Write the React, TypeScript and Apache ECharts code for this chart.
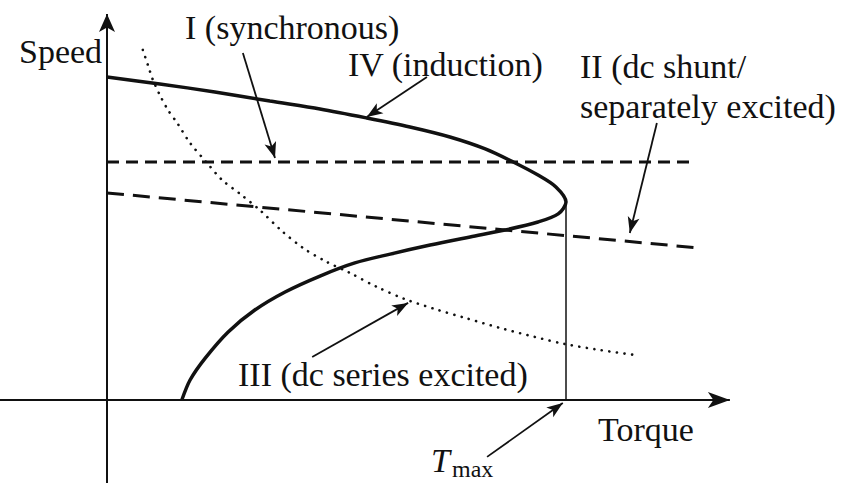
import React, { useEffect, useRef } from "react";
import * as echarts from "echarts";

// Units: torque in % of Tmax, speed in % of synchronous speed
const synchronous: [number, number][] = [
  [0, 100],
  [127, 100],
];
const dcShunt: [number, number][] = [
  [0, 87.0],
  [128.8, 63.9],
];
const induction: [number, number][] = [
  [0, 135.7], [11.5, 132.8], [23.5, 129.4], [35.5, 125.6], [46.4, 122.3],
  [56.6, 118.5], [66.0, 114.7], [74.7, 110.5], [82.4, 105.5], [88.5, 100.0],
  [93.9, 94.5], [97.8, 89.5], [100.0, 83.2], [98.3, 78.2], [93.9, 74.8],
  [86.7, 71.4], [79.1, 68.5], [70.4, 65.1], [61.7, 61.3], [54.0, 57.6],
  [46.4, 52.1], [38.8, 45.4], [32.2, 37.8], [26.4, 28.6], [21.4, 17.6],
  [18.1, 8.4], [16.3, 0],
];
const dcSeries: [number, number][] = [
  [7.8, 147.1], [8.9, 140.8], [10.0, 134.5], [11.5, 128.2], [13.3, 121.8],
  [15.3, 116.4], [18.1, 108.0], [21.8, 99.6], [25.1, 92.4], [29.0, 86.6],
  [33.3, 79.8], [38.1, 71.0], [42.7, 63.9], [47.5, 58.4], [52.9, 53.4],
  [58.8, 47.5], [64.9, 42.4], [71.5, 38.2], [78.0, 34.5], [85.6, 30.3],
  [93.2, 26.5], [99.8, 23.5], [107.4, 21.0], [115.0, 18.9],
];
const tMax = 100;
const tMaxSpeed = 83.2;

const FONT = "'Liberation Serif', 'DejaVu Serif', serif";
const INK = "#111";

export default function App() {
  const ref = useRef<HTMLDivElement>(null);
  useEffect(() => {
    if (!ref.current) return;
    const chart = echarts.init(ref.current, undefined, { renderer: "svg" });
    const seg = (
      from: [number, number],
      to: [number, number],
      size: [number, number] | null,
      width = 2
    ) => {
      const ls = { color: INK, width, type: "solid" };
      return [
        { coord: from, symbol: "none", lineStyle: ls },
        size
          ? { coord: to, symbol: "arrow", symbolSize: size, lineStyle: ls }
          : { coord: to, symbol: "none", lineStyle: ls },
      ];
    };
    const txt = (text: string, x: number, y: number, size = 34, fontStyle = "normal") => ({
      type: "text",
      x,
      y,
      style: {
        text,
        fill: INK,
        fontFamily: FONT,
        fontSize: size,
        fontStyle,
        verticalAlign: "middle",
      },
    });
    chart.setOption({
      animation: false,
      backgroundColor: "#fff",
      grid: { left: 0, right: 0, top: 0, bottom: 0 },
      xAxis: {
        type: "value",
        min: -23.31,
        max: 160.78,
        axisLine: { show: false },
        axisTick: { show: false },
        axisLabel: { show: false },
        splitLine: { show: false },
      },
      yAxis: {
        type: "value",
        min: -34.87,
        max: 168.07,
        axisLine: { show: false },
        axisTick: { show: false },
        axisLabel: { show: false },
        splitLine: { show: false },
      },
      series: [
        {
          name: "I (synchronous)",
          type: "line",
          data: synchronous,
          symbol: "none",
          lineStyle: { color: INK, width: 3, type: [12, 7] },
        },
        {
          name: "II (dc shunt)",
          type: "line",
          data: dcShunt,
          symbol: "none",
          lineStyle: { color: INK, width: 3, type: [17, 9] },
        },
        {
          name: "III (dc series)",
          type: "line",
          data: dcSeries,
          symbol: "none",
          smooth: 0.3,
          lineStyle: { color: INK, width: 2.6, type: [0.1, 7.5], cap: "round" },
        },
        {
          name: "IV (induction)",
          type: "line",
          data: induction,
          symbol: "none",
          smooth: 0.3,
          lineStyle: { color: INK, width: 3.5 },
          markLine: {
            silent: true,
            animation: false,
            label: { show: false },
            symbol: ["none", "none"],
            data: [
              seg([-23.31, 0], [135.7, 0], [12, 22], 2),
              seg([0, -34.87], [0, 162.2], [12, 18], 2),
              seg([tMax, 0], [tMax, tMaxSpeed], null, 1.5),
              seg([29.6, 145.8], [36.6, 101.7], [9, 16], 1.8),
              seg([69.7, 135.7], [56.6, 118.9], [9, 16], 1.8),
              seg([119.8, 116.4], [113.9, 70.2], [9, 16], 1.8),
              seg([44.7, 18.1], [65.6, 40.8], [9, 16], 1.8),
              seg([82.8, -23.9], [99.3, -1.3], [9, 16], 1.8),
            ],
          },
        },
      ],
      graphic: [
        txt("Speed", 19, 51),
        txt("I (synchronous)", 185, 27),
        txt("IV (induction)", 348, 64),
        txt("II (dc shunt/", 580, 66),
        txt("separately excited)", 580, 106),
        txt("III (dc series excited)", 238, 374),
        txt("Torque", 598, 429),
        txt("T", 431, 460, 34, "italic"),
        txt("max", 452, 469, 24),
      ],
    });
    return () => chart.dispose();
  }, []);
  return (
    <div
      ref={ref}
      style={{ position: "fixed", left: 0, top: 0, width: 845, height: 483, background: "#fff" }}
    />
  );
}
